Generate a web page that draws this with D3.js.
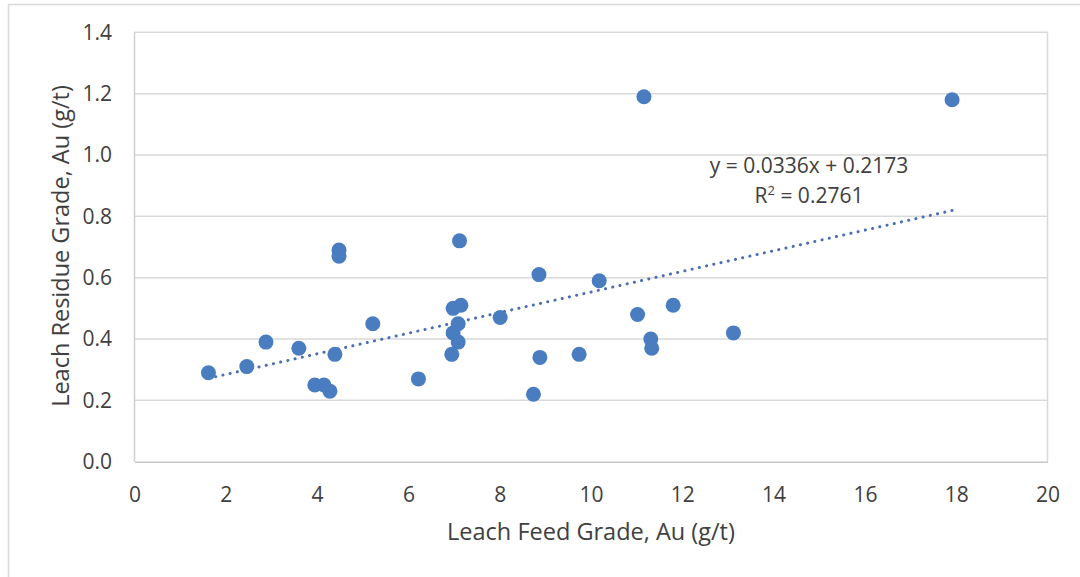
<!DOCTYPE html>
<html>
<head>
<meta charset="utf-8">
<script src="https://cdn.jsdelivr.net/npm/d3@7"></script>
<style>
  html, body { margin: 0; padding: 0; background: #fff; }
  svg { display: block; }
  text { font-family: "Open Sans", "DejaVu Sans", sans-serif; }
</style>
</head>
<body>
<svg id="chart" width="1080" height="577"></svg>
<script>
// ---- data ----
const feedGrade = [1.62, 2.46, 2.88, 3.60, 3.95, 4.15, 4.28, 4.39, 4.48, 4.48,
                   5.22, 6.22, 6.95, 6.98, 6.98, 7.09, 7.09, 7.15, 7.12, 8.01,
                   8.74, 8.86, 8.88, 9.74, 10.18, 11.02, 11.16, 11.31, 11.33, 11.80,
                   13.12, 17.91];
const residueGrade = [0.29, 0.31, 0.39, 0.37, 0.25, 0.25, 0.23, 0.35, 0.69, 0.67,
                      0.45, 0.27, 0.35, 0.42, 0.50, 0.39, 0.45, 0.51, 0.72, 0.47,
                      0.22, 0.61, 0.34, 0.35, 0.59, 0.48, 1.19, 0.40, 0.37, 0.51,
                      0.42, 1.18];
const xTicks = [0, 2, 4, 6, 8, 10, 12, 14, 16, 18, 20];
const yTicks = [0.0, 0.2, 0.4, 0.6, 0.8, 1.0, 1.2, 1.4];
const trendSlope = 0.0336;
const trendIntercept = 0.2173;
const equationLabel = "y = 0.0336x + 0.2173";
const r2Value = "0.2761";
const xTitle = "Leach Feed Grade, Au (g/t)";
const yTitle = "Leach Residue Grade, Au (g/t)";

// ---- layout ----
const svg = d3.select("#chart");
const L = 134.5, R = 1047.5, T = 32.3, B = 461.7;
const textColor = "#404040";

const x = d3.scaleLinear().domain([0, 20]).range([L, R]);
const y = d3.scaleLinear().domain([0, 1.4]).range([B, T]);

// chart area border
svg.append("rect")
  .attr("x", 8.5).attr("y", 4.5).attr("width", 1100).attr("height", 600)
  .attr("fill", "#fff").attr("stroke", "#d9d9d9").attr("stroke-width", 1.5);

// gridlines
svg.append("g")
  .selectAll("line").data(yTicks.filter(d => d > 0)).join("line")
  .attr("x1", L).attr("x2", R)
  .attr("y1", d => y(d)).attr("y2", d => y(d))
  .attr("stroke", "#d9d9d9").attr("stroke-width", 1.5);

// plot border verticals
svg.append("line").attr("x1", L).attr("x2", L).attr("y1", T).attr("y2", B)
  .attr("stroke", "#d0d0d0").attr("stroke-width", 1.5);
svg.append("line").attr("x1", R).attr("x2", R).attr("y1", T).attr("y2", B)
  .attr("stroke", "#d9d9d9").attr("stroke-width", 1.5);

// x axis
const xAxis = svg.append("g").attr("transform", `translate(0,${B})`)
  .call(d3.axisBottom(x).tickValues(xTicks).tickSize(0).tickPadding(25).tickFormat(d3.format("d")));
xAxis.select(".domain").attr("stroke", "#c8c8c8").attr("stroke-width", 1.5);
xAxis.selectAll("text").attr("fill", textColor).style("font-size", "21px")
  .style("font-family", "'Open Sans', sans-serif");

// y axis
const yAxis = svg.append("g").attr("transform", `translate(${L},0)`)
  .call(d3.axisLeft(y).tickValues(yTicks).tickSize(0).tickPadding(22.5).tickFormat(d3.format(".1f")));
yAxis.select(".domain").remove();
yAxis.selectAll("text").attr("fill", textColor).style("font-size", "21px")
  .style("font-family", "'Open Sans', sans-serif");

// trendline
const xMin = d3.min(feedGrade), xMax = d3.max(feedGrade);
svg.append("line")
  .attr("x1", x(xMin)).attr("y1", y(trendSlope * xMin + trendIntercept))
  .attr("x2", x(xMax)).attr("y2", y(trendSlope * xMax + trendIntercept))
  .attr("stroke", "#4a6fb0").attr("stroke-width", 3)
  .attr("stroke-dasharray", "0.1 7.3").attr("stroke-linecap", "round");

// points
const pts = feedGrade.map((v, i) => ({ x: v, y: residueGrade[i] }));
svg.append("g").selectAll("circle").data(pts).join("circle")
  .attr("cx", d => x(d.x)).attr("cy", d => y(d.y)).attr("r", 7.5)
  .attr("fill", "#4a7cc0");

// equation labels
svg.append("text").attr("x", 809).attr("y", 173).attr("text-anchor", "middle")
  .attr("fill", textColor).style("font-size", "21px").text(equationLabel);
const r2 = svg.append("text").attr("x", 809).attr("y", 203).attr("text-anchor", "middle")
  .attr("fill", textColor).style("font-size", "21px");
r2.append("tspan").text("R");
r2.append("tspan").attr("dy", -8).style("font-size", "13px").text("2");
r2.append("tspan").attr("dy", 8).text(" = " + r2Value);

// axis titles
svg.append("text").attr("x", 591).attr("y", 540).attr("text-anchor", "middle")
  .attr("fill", textColor).style("font-size", "23.5px").text(xTitle);
svg.append("text").attr("transform", "translate(69,246) rotate(-90)")
  .attr("text-anchor", "middle").attr("fill", textColor).style("font-size", "23.5px").text(yTitle);
</script>
</body>
</html>
